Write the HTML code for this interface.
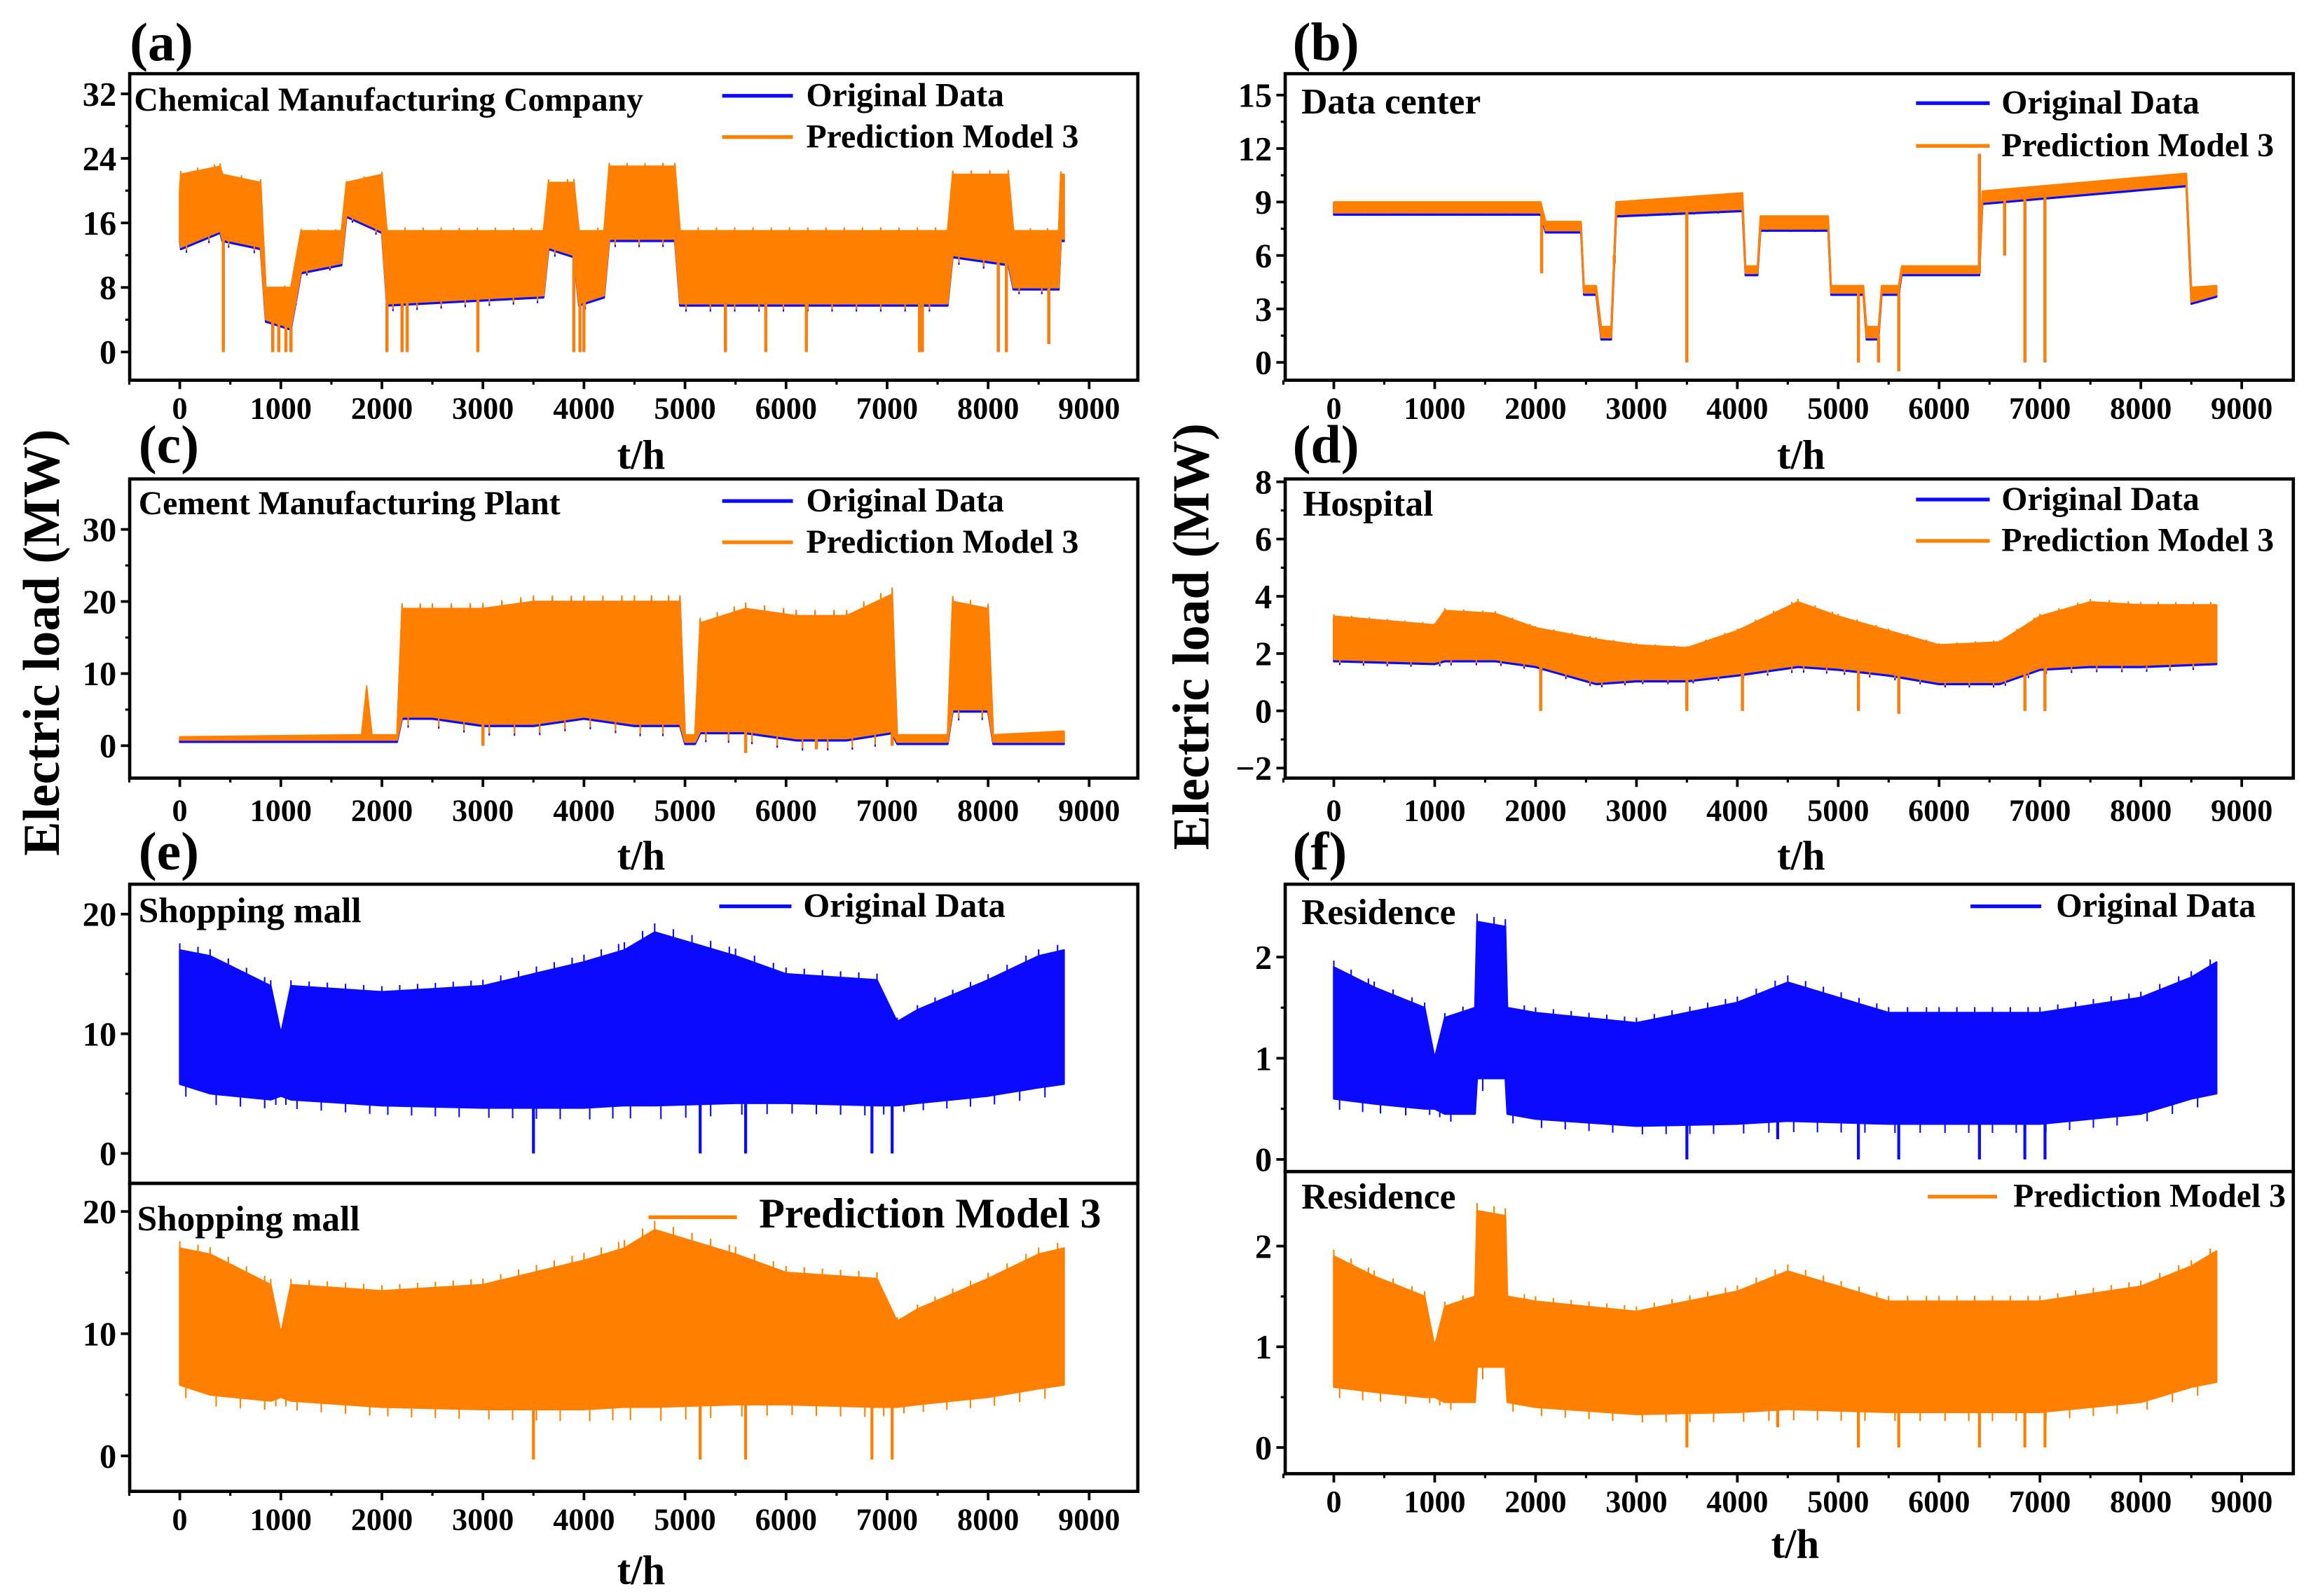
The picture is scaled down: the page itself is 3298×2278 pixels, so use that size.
<!DOCTYPE html>
<html><head><meta charset="utf-8"><style>
html,body{margin:0;padding:0;background:#fff}
svg{display:block}
text{font-family:"Liberation Serif",serif;font-weight:bold;fill:#000}
</style></head><body>
<svg id="fig" width="3298" height="2278" viewBox="0 0 1568 1083" preserveAspectRatio="none" xmlns="http://www.w3.org/2000/svg"></svg>
<script>
// ---------- data ----------
const aT=[0,10,400,420,800,850,1100,1200,1600,1650,2000,2050,3600,3650,3900,3950,4200,4250,4900,4950,7600,7650,8200,8250,8700,8720,8750];
const aUp=[20,22,23,22,21,8,8,15,15,21,22,15,15,21,21,15,15,23,23,15,15,22,22,15,15,22,22];
const aLo=[14,13,15,14,13,4,3,10,11,17,15,6,7,13,12,6,7,14,14,6,6,12,11,8,8,14,14];
const aSpT=[430,920,980,1050,1100,2050,2200,2250,2950,3900,3960,4000,5400,5800,6200,7320,7350,8100,8180,8600];
const aSpV=[0,0,0,0,0,0,0,0,0,0,0,0,0,0,0,0,0,0,0,1];

const bT=[0,2050,2100,2450,2480,2600,2650,2750,2800,4050,4080,4200,4230,4900,4930,5250,5280,5400,5430,5600,5630,6400,6430,8450,8500,8750];
const bUp=[9,9,7.9,7.9,4.3,4.3,2.0,2.0,9.0,9.5,5.4,5.4,8.2,8.2,4.3,4.3,2.0,2.0,4.3,4.3,5.4,5.4,9.6,10.6,4.2,4.3];
const bLo=[8.4,8.4,7.4,7.4,3.9,3.9,1.4,1.4,8.3,8.6,5.0,5.0,7.5,7.5,3.9,3.9,1.4,1.4,3.9,3.9,5.0,5.0,9.0,10.0,3.4,3.8];
const bSpT=[2060,2780,3500,5200,5400,5600,6400,6650,6850,7050];
const bSpV=[5,6,0,0,0,-0.5,11.7,6,0,0];

const cT=[0,1800,1850,1900,2150,2200,2500,3000,3500,4000,4500,4950,5000,5100,5150,5600,6100,6600,7050,7100,7600,7650,8000,8050,8750];
const cUp=[1.2,1.5,8,1.5,1.5,19,19,19,20,20,20,20,1.5,1.5,17,19,18,18,21,1.5,1.5,20,19,1.5,2];
const cLo=[0.8,0.8,0.8,0.8,0.8,4,4,3,3,4,3,3,0.5,0.5,2,2,1,1,2,0.5,0.5,5,5,0.5,0.5];
const cSpT=[3000,5600,6300,7050];
const cSpV=[0,-1,-0.5,0];

const dT=[0,1000,1100,1600,2000,2600,3000,3500,4000,4600,5000,5500,6000,6600,7000,7500,8000,8750];
const dUp=[3.3,3.0,3.5,3.4,2.9,2.5,2.3,2.2,2.8,3.8,3.3,2.8,2.3,2.4,3.3,3.8,3.7,3.7];
const dLo=[1.8,1.7,1.8,1.8,1.6,1.0,1.1,1.1,1.3,1.6,1.5,1.3,1.0,1.0,1.5,1.6,1.6,1.7];
const dSpT=[2050,3500,4050,5200,5600,6850,7050];
const dSpV=[0,0,0,0,-0.1,0,0];

const eT=[0,300,900,1000,1100,2000,3000,4000,4400,4700,5500,6000,6900,7100,7300,8000,8500,8750];
const eUp=[17,16.5,14,10,14,13.5,14,16,17,18.5,16.5,15,14.5,11,12,14.5,16.5,17];
const eLo=[5.8,5,4.5,4.8,4.5,4,3.8,3.8,4,4,4.2,4.2,4,4,4.2,4.8,5.5,5.8];
const eSpT=[3500,5150,5600,6850,7050];
const eSpV=[0,0,0,0,0];

const fT=[0,400,900,1000,1100,1400,1420,1700,1720,2000,3000,4000,4500,5500,6000,7000,8000,8500,8750];
const fUp=[1.9,1.7,1.5,1.0,1.4,1.5,2.35,2.3,1.5,1.45,1.35,1.55,1.75,1.45,1.45,1.45,1.6,1.8,1.95];
const fLo=[0.6,0.55,0.5,0.5,0.45,0.45,0.8,0.8,0.45,0.4,0.33,0.35,0.38,0.35,0.35,0.35,0.45,0.6,0.65];
const fSpT=[3500,4400,5200,5600,6400,6850,7050];
const fSpV=[0,0.2,0,0,0,0,0];

const xTicks=[0,1000,2000,3000,4000,5000,6000,7000,8000,9000];
// ---------- drawing ----------
const NS="http://www.w3.org/2000/svg";
const svg=document.getElementById('fig');
const BLUE="#0a0aff",ORANGE="#ff8000";
function el(tag,attrs,parent){const e=document.createElementNS(NS,tag);for(const k in attrs)e.setAttribute(k,attrs[k]);(parent||svg).appendChild(e);return e;}
function txt(x,y,s,size,anchor,parent){const t=el('text',{x:x,y:y,'font-size':size,'text-anchor':anchor||'start'},parent);t.textContent=s;return t;}

function panel(name,box,ymin,ymax,yTicks,x0px,x9px,yTickLabels,withXAxis,xLabY){
  const g=el('g',{});
  
  
  const xs=v=>x0px+(v/9000)*(x9px-x0px);
  const ys=v=>box.b-(v-ymin)/(ymax-ymin)*(box.b-box.t);
  const fr=el('rect',{x:box.l,y:box.t,width:box.r-box.l,height:box.b-box.t,fill:'none',stroke:'#000','stroke-width':2.2},g);
  
  
  yTicks.forEach((v,i)=>{
    el('line',{x1:box.l-6,x2:box.l,y1:ys(v),y2:ys(v),stroke:'#000','stroke-width':1.8},g);
    const t=txt(box.l-9,ys(v)+8,yTickLabels[i],23,'end',g);
    
    
    if(i<yTicks.length-1){const m=(v+yTicks[i+1])/2;el('line',{x1:box.l-3,x2:box.l,y1:ys(m),y2:ys(m),stroke:'#000','stroke-width':1.5},g);}
  });
  if(withXAxis){
    xTicks.forEach(v=>{
      el('line',{x1:xs(v),x2:xs(v),y1:box.b,y2:box.b+6,stroke:'#000','stroke-width':1.8},g);
      el('line',{x1:xs(v-500),x2:xs(v-500),y1:box.b,y2:box.b+3,stroke:'#000','stroke-width':1.5},g);
      const t=txt(xs(v),xLabY,String(v),21,'middle',g);
      
      
    });
  }
  return {g,xs,ys};
}
function band(p,T,U,L,color,name,dy){
  let d='M';
  T.forEach((t,i)=>{d+=p.xs(t).toFixed(1)+','+(p.ys(U[i])+dy).toFixed(1)+' L';});
  for(let i=T.length-1;i>=0;i--){d+=p.xs(T[i]).toFixed(1)+','+(p.ys(L[i])+dy).toFixed(1)+(i?' L':' Z');}
  const e=el('path',{d:d,fill:color,stroke:color,'stroke-width':1.2,'stroke-linejoin':'round'},p.g);
  
  
  for(let i=0;i<T.length-1;i++){
    const n=Math.max(1,Math.round((T[i+1]-T[i])/60));
    for(let k=0;k<n;k++){
      const t=T[i]+(T[i+1]-T[i])*k/n;
      const f=k/n;
      const u=U[i]+(U[i+1]-U[i])*f, l=L[i]+(L[i+1]-L[i])*f;
      const hi=(k%3===0)?u+(u-l)*0.05:u, lo=(k%4===1)?l-(u-l)*0.08:l;
      el('line',{x1:p.xs(t),x2:p.xs(t),y1:p.ys(hi)+dy,y2:p.ys(lo)+dy,stroke:color,'stroke-width':1},p.g);
    }
  }
}
function spikes(p,ST,SV,T,L,color,name){
  ST.forEach((t,i)=>{
    let j=0;while(j<T.length-2&&T[j+1]<t)j++;
    const f=Math.min(1,Math.max(0,(t-T[j])/(T[j+1]-T[j])));
    const base=L[j]+(L[j+1]-L[j])*f;
    const e=el('line',{x1:p.xs(t),x2:p.xs(t),y1:p.ys(base),y2:p.ys(SV[i]),stroke:color,'stroke-width':2},p.g);
    
    
  });
}
function legend(x,y,label,color,size,lineX1,lineX2){
  const g=el('g',{});
  
  
  el('line',{x1:lineX1,x2:lineX2,y1:y-7,y2:y-7,stroke:color,'stroke-width':2.5},g);
  txt(x,y,label,size,'start',g);
}
function both(p,T,U,L,ST,SV){
  band(p,T,U,L,BLUE,'original-data-series',1.5);
  spikes(p,ST,SV,T,L,BLUE,'original-data-spike');
  band(p,T,U,L,ORANGE,'prediction-series',0);
  spikes(p,ST,SV,T,L,ORANGE,'prediction-spike');
}
let p=panel('panel-a-chemical',{l:88,r:772,t:50,b:258},-3.5,34.5,[0,8,16,24,32],122,739,['0','8','16','24','32'],true,284);
both(p,aT,aUp,aLo,aSpT,aSpV);
p=panel('panel-b-data-center',{l:872,r:1556,t:50,b:258},-1,16.2,[0,3,6,9,12,15],905,1521,['0','3','6','9','12','15'],true,284);
both(p,bT,bUp,bLo,bSpT,bSpV);
p=panel('panel-c-cement',{l:88,r:772,t:325,b:528},-4.5,37,[0,10,20,30],122,739,['0','10','20','30'],true,557);
both(p,cT,cUp,cLo,cSpT,cSpV);
p=panel('panel-d-hospital',{l:872,r:1556,t:325,b:528},-2.35,8.1,[-2,0,2,4,6,8],905,1521,['\u22122','0','2','4','6','8'],true,557);
both(p,dT,dUp,dLo,dSpT,dSpV);
p=panel('panel-e-top-original',{l:88,r:772,t:600,b:803},-2.5,22.5,[0,10,20],122,739,['0','10','20'],false,0);
band(p,eT,eUp,eLo,BLUE,'original-data-series',0);spikes(p,eSpT,eSpV,eT,eLo,BLUE,'original-data-spike');
p=panel('panel-e-bottom-prediction',{l:88,r:772,t:803,b:1012},-2.9,22.3,[0,10,20],122,739,['0','10','20'],true,1038);
band(p,eT,eUp,eLo,ORANGE,'prediction-series',0);spikes(p,eSpT,eSpV.map(v=>v-0.3),eT,eLo,ORANGE,'prediction-spike');
p=panel('panel-f-top-original',{l:872,r:1556,t:600,b:795},-0.12,2.72,[0,1,2],905,1521,['0','1','2'],false,0);
band(p,fT,fUp,fLo,BLUE,'original-data-series',0);spikes(p,fSpT,fSpV,fT,fLo,BLUE,'original-data-spike');
p=panel('panel-f-bottom-prediction',{l:872,r:1556,t:795,b:1000},-0.26,2.74,[0,1,2],905,1521,['0','1','2'],true,1026);
band(p,fT,fUp,fLo,ORANGE,'prediction-series',0);spikes(p,fSpT,fSpV,fT,fLo,ORANGE,'prediction-spike');

[['(a)',88,41],['(b)',877,41],['(c)',94,314],['(d)',877,314],['(e)',94,590],['(f)',877,590]].forEach(a=>{
  const t=txt(a[1],a[2],a[0],37,'start');});
[[435,318],[1222,318],[435,590],[1222,590],[435,1075],[1218,1057]].forEach(a=>{
  const t=txt(a[0],a[1],'t/h',28,'middle');});
[['Chemical Manufacturing Company',91,75,22.7],['Data center',883,77,24.5],['Cement Manufacturing Plant',94,349,22.7],['Hospital',884,350,24.5],['Shopping mall',94,626,24.4],['Shopping mall',93,835,24.4],['Residence',883,627,24.5],['Residence',883,820,24.5]].forEach(a=>{
  const t=txt(a[1],a[2],a[0],a[3],'start');});
legend(547,72,'Original Data',BLUE,22.7,490,538);legend(547,100,'Prediction Model 3',ORANGE,22.7,490,538);
legend(1358,77,'Original Data',BLUE,22.7,1300,1350);legend(1358,106,'Prediction Model 3',ORANGE,22.7,1300,1350);
legend(547,347,'Original Data',BLUE,22.7,490,538);legend(547,375,'Prediction Model 3',ORANGE,22.7,490,538);
legend(1358,346,'Original Data',BLUE,22.7,1300,1350);legend(1358,374,'Prediction Model 3',ORANGE,22.7,1300,1350);
legend(545,622,'Original Data',BLUE,23.2,488,537);legend(515,833,'Prediction Model 3',ORANGE,28.5,440,500);
legend(1395,622,'Original Data',BLUE,22.9,1337,1385);legend(1366,819,'Prediction Model 3',ORANGE,22.7,1308,1355);
[[40,436],[820,432]].forEach(a=>{
  const t=txt(0,0,'Electric load (MW)',35,'middle');t.setAttribute('transform','translate('+a[0]+','+a[1]+') rotate(-90)');
  });
</script>
</body></html>
